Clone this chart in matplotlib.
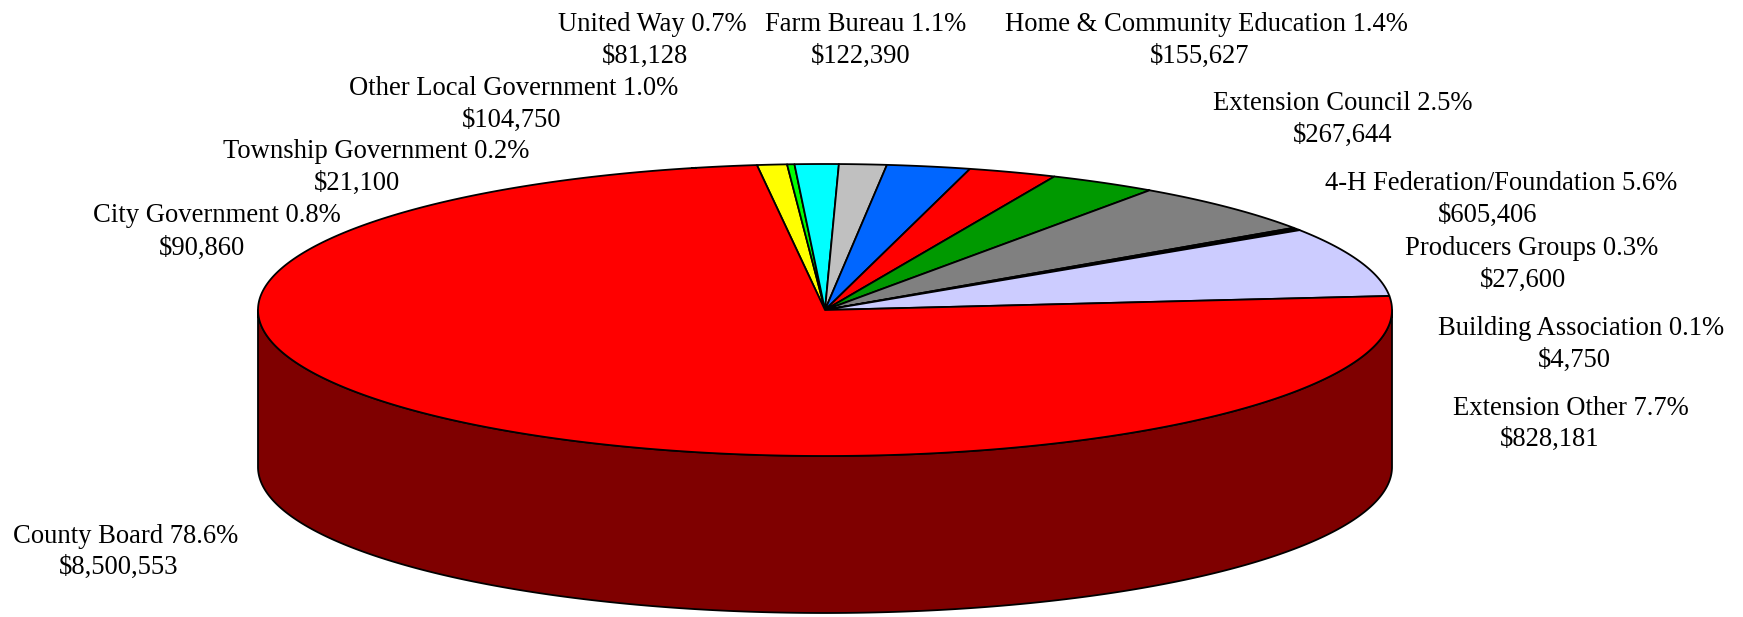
import numpy as np
import matplotlib.pyplot as plt
from matplotlib.patches import Polygon

plt.rcParams['font.family'] = ['Liberation Serif', 'DejaVu Serif']

# slices in clockwise order, the first one ends where the second starts
names = ['County Board', 'City Government', 'Township Government', 'Other Local Government',
         'United Way', 'Farm Bureau', 'Home & Community Education', 'Extension Council',
         '4-H Federation/Foundation', 'Producers Groups', 'Building Association', 'Extension Other']
dollars = [8500553, 90860, 21100, 104750, 81128, 122390, 155627, 267644, 605406, 27600, 4750, 828181]
percents = [78.6, 0.8, 0.2, 1.0, 0.7, 1.1, 1.4, 2.5, 5.6, 0.3, 0.1, 7.7]
colors = ['#ff0000', '#ffff00', '#00ff00', '#00ffff', '#c0c0c0', '#0066ff',
          '#ff0000', '#009900', '#808080', '#000000', '#0066cc', '#ccccff']

# label positions, in the same order as names (centre x, baseline y)
name_x = [126, 217, 376, 514, 652, 866, 1206, 1343, 1501, 1532, 1581, 1571]
name_y = [543, 222, 158, 95, 31, 31, 31, 110, 190, 255, 335, 415]
value_x = [119, 202, 357, 512, 645, 861, 1200, 1343, 1488, 1523, 1574, 1550]
value_y = [574, 255, 190, 127, 63, 63, 63, 142, 222, 287, 367, 446]

cx, cy = 825, 310
rx, ry = 567, 146
depth = 157
start_deg = -6.9     # clockwise from 12 o'clock, where City Government begins
skew_deg = 14.5      # how far the tilted view pulls slices round the rim
skew_knee = 0.0139   # sin^2(half angle) where that pull reaches half strength


def rim(share_deg):
    # share_deg is measured from start_deg along the true circle
    x = np.sin(np.radians(share_deg) / 2) ** 2
    skew = skew_deg * x ** 2 / (x ** 2 + skew_knee ** 2)
    t = np.radians(start_deg + share_deg + skew)
    return cx + rx * np.sin(t), cy - ry * np.cos(t)


fig = plt.figure(figsize=(17.43, 6.17), dpi=100)
ax = fig.add_axes([0, 0, 1, 1])
ax.set_xlim(0, 1743)
ax.set_ylim(617, 0)
ax.axis('off')

# side wall of the front half
t = np.radians(np.linspace(90, 270, 300))
wx = cx + rx * np.sin(t)
wy = cy - ry * np.cos(t)
wall = np.column_stack([np.r_[wx, wx[::-1]], np.r_[wy + depth, wy[::-1]]])
ax.add_patch(Polygon(wall, closed=True, fc='#7f0000', ec='black', lw=1.3, joinstyle='round'))

# top face, County Board takes whatever is left after the small slices
sizes = np.array(dollars) / sum(dollars) * 360
order = list(range(1, len(names))) + [0]
a0 = 0.0
for i in order:
    a1 = a0 + sizes[i]
    px, py = rim(np.linspace(a0, a1, max(int(sizes[i] * 3), 6)))
    pts = np.column_stack([np.r_[cx, px], np.r_[cy, py]])
    ax.add_patch(Polygon(pts, closed=True, fc=colors[i], ec='black', lw=1.3, joinstyle='round'))
    a0 = a1

for i in range(len(names)):
    ax.text(name_x[i], name_y[i], f'{names[i]} {percents[i]:.1f}%', ha='center', va='baseline',
            fontsize=19.2, color='black', parse_math=False)
    ax.text(value_x[i], value_y[i], f'${dollars[i]:,}', ha='center', va='baseline',
            fontsize=19.2, color='black', parse_math=False)

fig.savefig('out.png', dpi=100)
